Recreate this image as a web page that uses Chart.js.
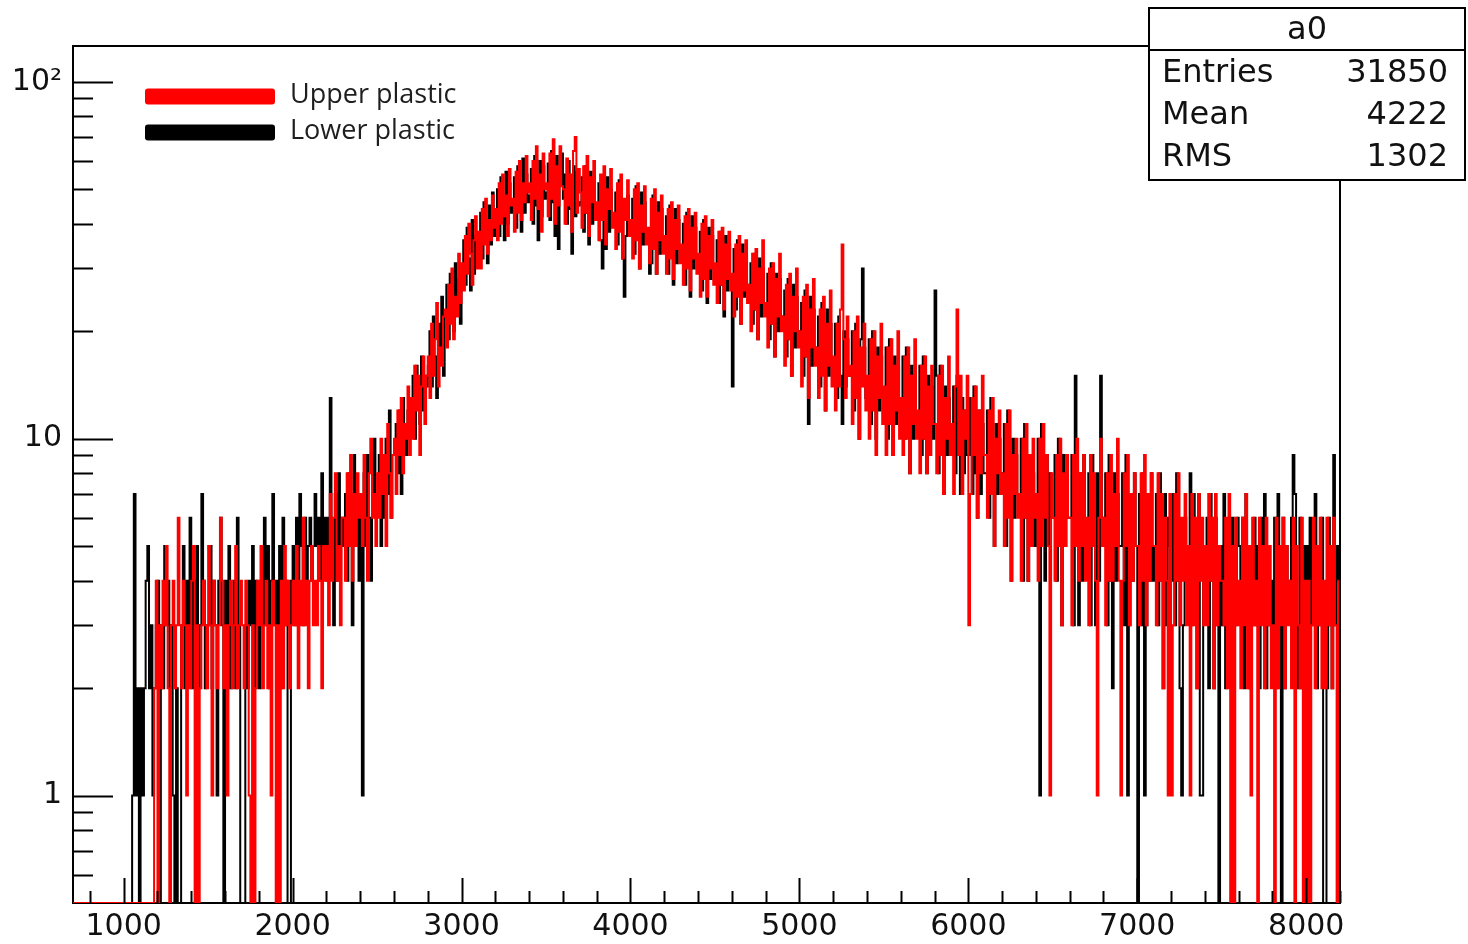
<!DOCTYPE html>
<html>
<head>
<meta charset="utf-8">
<script src="https://cdn.jsdelivr.net/npm/chart.js@4.4.0/dist/chart.umd.min.js"></script>
<style>
  html, body { margin: 0; padding: 0; background: #fff; }
  #wrap { width: 1468px; height: 944px; }
</style>
</head>
<body>
<div id="wrap"><canvas id="hist" width="1468" height="944"></canvas></div>
<script>
// histogram binning (ADC channels)
const X_MIN = 700, X_MAX = 8200, BIN_W = 10;
const Y_MIN = 0.5, Y_MAX = 126;

const X_TICKS = [1000, 2000, 3000, 4000, 5000, 6000, 7000, 8000];
const Y_TICKS = [1, 10, 100];
const Y_TICK_LABELS = ['1', '10', '10\u00b2'];
const Y_MINOR = [0.6, 0.7, 0.8, 0.9, 2, 3, 4, 5, 6, 7, 8, 9, 20, 30, 40, 50, 60, 70, 80, 90];

const SERIES_LABELS = ['Upper plastic', 'Lower plastic'];
const SERIES_COLORS = ['#ff0000', '#000000'];

const STAT_TITLE = 'a0';
const STAT_NAMES = ['Entries', 'Mean', 'RMS'];
const STAT_VALUES = ['31850', '4222', '1302'];

// counts per 10-channel bin, 700 .. 8190
const UPPER = [
  // 700
  0,0,0,0,0,0,0,0,0,0, 0,0,0,0,0,0,0,0,0,0, 0,0,0,0,0,0,0,0,0,0, 0,0,0,0,0,0,0,0,0,0, 0,0,0,0,0,0,0,0,2,4,
  // 1200
  0,3,2,4,3,5,2,0,3,4, 2,3,6,3,2,4,3,1,3,2, 4,5,0,3,0,2,3,4,3,2, 5,3,1,4,3,2,3,6,4,2, 3,1,3,4,2,3,5,2,3,4,
  // 1700
  3,2,4,3,1,0,3,0,2,4, 3,5,2,3,4,2,3,1,4,3, 0,3,0,4,2,5,3,4,2,3, 4,3,5,2,4,3,6,3,4,2, 4,5,3,4,3,5,4,2,5,4,
  // 2200
  5,3,7,4,6,8,4,5,3,6, 6,4,8,5,9,4,7,5,8,6, 7,5,9,6,4,8,10,6,7,5, 8,6,10,7,9,5,11,8,6,9, 10,7,12,9,13,8,11,10,14,9,
  // 2700
  13,10,16,12,15,9,14,17,11,15, 17,13,21,15,19,24,14,18,16,22, 23,18,27,21,30,19,25,22,33,24, 31,26,37,29,40,33,27,36,42,30, 38,30,44,35,47,33,41,36,48,39,
  // 3200
  44,36,52,40,55,42,48,37,57,45, 47,38,56,43,60,41,52,46,62,49, 52,41,60,47,66,44,55,38,63,50, 52,42,63,47,69,40,58,45,66,51, 50,40,61,45,55,38,64,70,43,57,
  // 3700
  49,39,58,43,62,37,54,46,60,41, 46,36,55,41,58,35,50,44,57,39, 43,34,52,38,55,32,47,41,53,37, 41,32,50,36,52,30,45,38,51,35, 39,31,47,34,50,29,43,36,48,33,
  // 4200
  37,29,44,32,46,28,41,34,45,31, 35,27,42,30,44,26,39,32,43,29, 33,25,40,28,42,25,37,30,41,27, 31,24,38,27,39,23,35,28,38,26, 29,22,35,25,37,21,33,26,36,24,
  // 4700
  27,20,33,23,34,19,30,24,36,22, 24,18,30,21,31,17,28,22,33,20, 22,16,27,19,29,15,25,20,30,18, 20,14,25,17,27,13,23,18,28,16, 18,13,23,15,25,12,21,16,26,14,
  // 5200
  17,12,21,14,23,35,19,13,22,15, 16,11,20,13,22,10,18,14,21,12, 15,10,19,12,20,9,17,13,21,11, 14,9,18,11,19,9,16,12,20,10, 13,9,17,10,18,8,15,11,19,10,
  // 5700
  12,8,16,10,17,8,14,9,16,11, 11,8,15,9,16,7,13,10,17,9, 11,7,14,23,9,15,7,12,10,15, 3,7,13,9,14,6,12,8,15,9, 9,6,12,7,13,5,10,8,12,7,
  // 6200
  8,5,11,6,12,4,9,7,10,6, 7,4,10,6,11,4,9,5,10,6, 7,4,10,5,11,6,9,5,1,8, 6,4,9,5,10,3,8,5,9,6, 6,3,9,5,10,4,8,5,9,4,
  // 6700
  6,3,9,5,8,4,1,6,10,5, 6,3,8,4,9,4,7,5,10,4, 1,4,8,5,9,3,7,4,8,5, 5,3,8,4,9,3,7,4,8,5, 5,3,8,4,7,2,6,4,1,7,
  // 7200
  1,3,7,4,8,3,6,4,7,3, 5,1,7,3,6,2,7,4,6,3, 5,3,7,4,6,2,7,3,5,4, 4,3,6,2,7,0,5,0,6,3, 4,2,6,3,7,2,5,1,6,3,
  // 7700
  4,0,6,3,5,2,6,3,5,2, 3,0,6,2,5,3,6,2,5,3, 4,2,6,0,5,3,2,6,0,4, 0,4,0,3,6,2,5,3,6,2, 4,2,6,3,5,2,6,3,0,4
];

const LOWER = [
  // 700
  0,0,0,0,0,0,0,0,0,0, 0,0,0,0,0,0,0,0,0,0, 0,0,0,0,0,0,0,0,0,0, 0,0,0,0,0,1,7,1,2,0, 2,1,2,4,5,2,3,1,2,3,
  // 1200
  4,0,3,2,5,3,4,2,3,1, 0,2,0,0,3,5,2,4,3,6, 2,4,3,5,2,3,7,4,2,3, 3,5,2,4,3,1,4,6,3,0, 4,3,5,2,3,4,2,6,3,0,
  // 1700
  0,0,3,2,4,3,5,2,4,3, 2,4,3,6,3,5,2,4,7,3, 4,3,5,2,6,3,4,0,0,4, 5,3,6,4,7,5,3,6,4,5, 6,4,5,7,5,6,4,8,5,6,
  // 2200
  4,6,13,5,3,7,4,8,5,6, 5,7,4,8,6,3,9,5,7,4, 6,1,8,5,9,6,4,7,10,6, 7,9,5,8,6,10,7,12,6,9, 9,11,8,12,7,13,10,9,12,10,
  // 2700
  12,15,10,16,13,11,17,12,15,14, 16,20,14,22,17,13,21,18,25,15, 22,27,19,29,24,20,31,23,28,21, 30,36,27,39,32,26,41,29,37,31, 36,43,32,46,38,31,45,35,49,37,
  // 3200
  42,50,37,54,44,36,56,40,52,43, 45,54,39,58,47,38,61,43,55,46, 48,57,40,62,45,36,60,42,58,47, 49,59,41,64,46,37,62,34,56,63, 47,55,40,60,44,33,58,42,56,45,
  // 3700
  46,54,38,58,43,35,56,40,52,44, 43,52,36,30,41,34,54,38,50,42, 41,49,35,53,39,32,25,37,48,40, 39,47,33,51,37,30,49,35,46,38, 37,29,31,48,35,29,46,33,44,36,
  // 4200
  35,42,29,45,33,27,44,31,41,34, 33,40,27,43,31,25,42,30,39,32, 31,38,26,41,29,24,39,28,37,30, 29,36,24,38,27,22,37,26,35,28, 14,34,23,36,26,21,35,25,33,27,
  // 4700
  25,31,21,33,23,19,32,22,30,24, 23,29,19,31,21,17,29,20,28,22, 21,26,17,28,19,15,27,18,25,20, 19,24,15,26,17,11,25,16,23,18, 17,22,14,24,16,12,23,15,21,16,
  // 5200
  16,21,13,22,15,11,20,14,19,15, 15,20,12,21,14,10,19,30,18,13, 14,19,11,20,13,10,18,12,17,13, 13,18,10,19,12,9,17,11,16,12, 12,17,10,18,11,8,16,10,15,11,
  // 5700
  11,16,9,17,10,8,15,9,14,10, 26,15,8,16,10,7,14,9,13,10, 10,14,8,15,9,7,13,8,12,9, 9,13,7,14,8,6,12,7,11,8, 8,12,6,13,7,5,11,7,10,8,
  // 6200
  8,11,5,12,7,4,10,6,9,7, 7,10,4,11,6,4,9,6,8,5, 7,10,1,11,6,4,9,5,8,6, 6,9,4,10,5,3,9,5,8,6, 6,9,3,15,5,3,8,4,9,5,
  // 6700
  5,8,3,9,5,3,8,4,15,6, 5,8,3,9,4,2,8,4,7,5, 5,8,3,9,1,3,7,4,8,5, 0,7,3,8,1,3,7,4,8,4, 5,7,3,8,4,2,7,3,6,5,
  // 7200
  4,7,3,8,4,2,1,3,6,4, 4,8,3,7,4,2,7,1,1,5, 4,6,2,7,4,2,6,3,0,5, 3,7,2,5,4,2,6,4,3,6, 5,3,6,2,7,4,2,5,3,6,
  // 7700
  3,5,2,6,4,7,2,5,3,4, 3,6,2,7,3,0,6,2,5,4, 4,6,9,7,3,2,6,2,5,3, 5,2,6,3,4,7,2,5,3,6, 0,0,2,6,3,2,9,3,5,4
];

// bin left edges + closing edge, empty bins sit on the axis floor
function toSteps(counts) {
  const pts = counts.map((c, i) => ({ x: X_MIN + i * BIN_W, y: c > 0 ? c : Y_MIN }));
  const last = counts[counts.length - 1];
  pts.push({ x: X_MIN + counts.length * BIN_W, y: last > 0 ? last : Y_MIN });
  return pts;
}

const FONT_AXIS = '"DejaVu Sans", sans-serif';

// frame, inward ticks, legend and stats box in ROOT style
const rootDecor = {
  id: 'rootDecor',
  afterDatasetsDraw(chart) {
    const { ctx, chartArea: a, scales: { x, y } } = chart;
    ctx.save();
    ctx.strokeStyle = '#000';
    ctx.lineWidth = 2;
    ctx.beginPath();
    ctx.moveTo(a.left, a.top);
    ctx.lineTo(a.right, a.top);
    ctx.lineTo(a.right, a.bottom);
    ctx.stroke();

    ctx.beginPath();
    for (let v = 800; v <= X_MAX; v += 200) {
      const px = Math.round(x.getPixelForValue(v)) + 0.5;
      const len = X_TICKS.includes(v) ? 25 : 12;
      ctx.moveTo(px, a.bottom);
      ctx.lineTo(px, a.bottom - len);
    }
    Y_TICKS.concat(Y_MINOR).forEach(v => {
      const py = Math.round(y.getPixelForValue(v)) + 0.5;
      const len = Y_TICKS.includes(v) ? 40 : 20;
      ctx.moveTo(a.left, py);
      ctx.lineTo(a.left + len, py);
    });
    ctx.stroke();
    ctx.restore();
  },
  afterDraw(chart) {
    const { ctx, chartArea: a } = chart;
    ctx.save();

    // legend
    const rows = [96.5, 132.5];
    chart.data.datasets.forEach((ds, i) => {
      ctx.fillStyle = ds.borderColor;
      ctx.beginPath();
      ctx.roundRect(a.left + 72, rows[i] - 8, 130, 16, 3);
      ctx.fill();
      ctx.fillStyle = '#1e1e1e';
      ctx.font = '27px "Open Sans", sans-serif';
      ctx.textAlign = 'left';
      ctx.textBaseline = 'alphabetic';
      ctx.fillText(ds.label, a.left + 217, rows[i] + 6.8);
    });

    // stats box
    const bx = 1149, by = 8, bw = 316, bh = 172, split = 50;
    ctx.fillStyle = '#fff';
    ctx.fillRect(bx, by, bw, bh);
    ctx.strokeStyle = '#000';
    ctx.lineWidth = 2;
    ctx.strokeRect(bx, by, bw, bh);
    ctx.beginPath();
    ctx.moveTo(bx, split);
    ctx.lineTo(bx + bw, split);
    ctx.stroke();

    ctx.fillStyle = '#111';
    ctx.font = '32px ' + FONT_AXIS;
    ctx.textBaseline = 'middle';
    ctx.textAlign = 'center';
    ctx.fillText(STAT_TITLE, bx + bw / 2, 31);
    const rowY = [74, 116, 158];
    STAT_NAMES.forEach((n, i) => {
      ctx.textAlign = 'left';
      ctx.fillText(n, bx + 13, rowY[i]);
      ctx.textAlign = 'right';
      ctx.fillText(STAT_VALUES[i], bx + bw - 17, rowY[i]);
    });
    ctx.restore();
  }
};

new Chart(document.getElementById('hist'), {
  type: 'line',
  data: {
    datasets: [
      {
        label: SERIES_LABELS[0],
        data: toSteps(UPPER),
        borderColor: SERIES_COLORS[0],
        order: 0
      },
      {
        label: SERIES_LABELS[1],
        data: toSteps(LOWER),
        borderColor: SERIES_COLORS[1],
        order: 1
      }
    ]
  },
  options: {
    responsive: false,
    animation: false,
    events: [],
    devicePixelRatio: 1,
    layout: { padding: { left: 0, top: 46, right: 128, bottom: 0 } },
    elements: {
      line: { borderWidth: 2, stepped: 'before', tension: 0, fill: false, borderJoinStyle: 'miter' },
      point: { radius: 0 }
    },
    plugins: {
      legend: { display: false },
      tooltip: { enabled: false }
    },
    scales: {
      x: {
        type: 'linear',
        min: X_MIN,
        max: X_MAX,
        afterFit: s => { s.height = 41; },
        afterBuildTicks: s => { s.ticks = X_TICKS.map(v => ({ value: v })); },
        grid: { display: false, drawTicks: false },
        border: { display: true, color: '#000', width: 2 },
        ticks: {
          autoSkip: false,
          maxRotation: 0,
          padding: 6,
          color: '#111',
          font: { family: FONT_AXIS, size: 30 },
          callback: v => String(v)
        }
      },
      y: {
        type: 'logarithmic',
        min: Y_MIN,
        max: Y_MAX,
        afterFit: s => { s.width = 73; },
        afterBuildTicks: s => { s.ticks = Y_TICKS.map(v => ({ value: v })); },
        grid: { display: false, drawTicks: false },
        border: { display: true, color: '#000', width: 2 },
        ticks: {
          autoSkip: false,
          padding: 11,
          color: '#111',
          font: { family: FONT_AXIS, size: 30 },
          callback: v => Y_TICK_LABELS[Y_TICKS.indexOf(v)]
        }
      }
    }
  },
  plugins: [rootDecor]
});
</script>
</body>
</html>
